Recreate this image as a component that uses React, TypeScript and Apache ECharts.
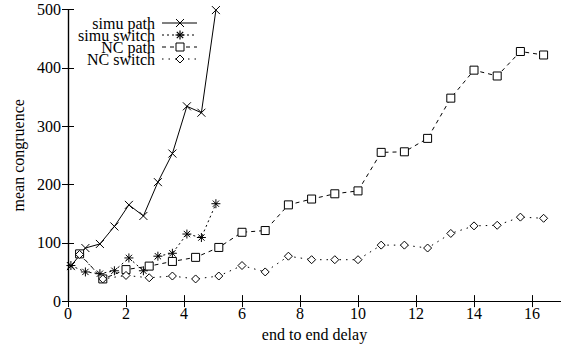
import React, { useEffect, useRef } from "react";
import * as echarts from "echarts";

const seriesNames = ["simu path", "simu switch", "NC path", "NC switch"];

const simuPathX = [0.1, 0.6, 1.1, 1.6, 2.1, 2.6, 3.1, 3.6, 4.1, 4.6, 5.1];
const simuPathY = [60, 91, 98, 128, 165, 146, 204, 253, 334, 323, 499];

const simuSwitchX = [0.1, 0.6, 1.1, 1.6, 2.1, 2.6, 3.1, 3.6, 4.1, 4.6, 5.1];
const simuSwitchY = [61, 50, 47, 52, 74, 52, 77, 82, 115, 109, 167];

const ncX = [0.4, 1.2, 2.0, 2.8, 3.6, 4.4, 5.2, 6.0, 6.8, 7.6, 8.4, 9.2, 10.0, 10.8, 11.6, 12.4, 13.2, 14.0, 14.8, 15.6, 16.4];
const ncPathY = [81, 38, 54, 60, 68, 75, 92, 118, 121, 165, 175, 184, 189, 255, 256, 279, 348, 396, 386, 428, 422];
const ncSwitchY = [80, 38, 44, 40, 43, 38, 43, 61, 50, 77, 71, 71, 71, 96, 96, 91, 116, 129, 130, 144, 142];

const xTicks = { min: 0, max: 17, interval: 2 };
const yTicks = { min: 0, max: 500, interval: 100 };

const FONT = "'Liberation Serif', 'Times New Roman', serif";

const zip = (xs: number[], ys: number[]) => xs.map((x, i) => [x, ys[i]]);

const dashes: (number[] | null)[] = [null, [2, 3], [4, 4], [1.5, 5]];

function legendGraphic() {
  const rowsY = [23, 35, 47, 59];
  const textRight = 155;
  const lx1 = 162;
  const lx2 = 197;
  const mx = 180;
  const els: any[] = [];
  seriesNames.forEach((n, i) => {
    const y = rowsY[i];
    els.push({
      type: "text",
      x: textRight,
      y,
      style: {
        text: n,
        align: "right",
        verticalAlign: "middle",
        fontFamily: FONT,
        fontSize: 16,
        fill: "#000",
      },
    });
    els.push({
      type: "line",
      shape: { x1: lx1, y1: y, x2: lx2, y2: y },
      style: { stroke: "#000", lineWidth: 1, lineDash: dashes[i] || undefined },
    });
    const s = 4;
    if (i === 0) {
      els.push({ type: "line", shape: { x1: mx - s, y1: y - s, x2: mx + s, y2: y + s }, style: { stroke: "#000", lineWidth: 1 } });
      els.push({ type: "line", shape: { x1: mx - s, y1: y + s, x2: mx + s, y2: y - s }, style: { stroke: "#000", lineWidth: 1 } });
    } else if (i === 1) {
      const a = 3.2;
      els.push({ type: "line", shape: { x1: mx, y1: y - 4.5, x2: mx, y2: y + 4.5 }, style: { stroke: "#000", lineWidth: 1.2 } });
      els.push({ type: "line", shape: { x1: mx - 4.5, y1: y, x2: mx + 4.5, y2: y }, style: { stroke: "#000", lineWidth: 1.2 } });
      els.push({ type: "line", shape: { x1: mx - a, y1: y - a, x2: mx + a, y2: y + a }, style: { stroke: "#000", lineWidth: 1.2 } });
      els.push({ type: "line", shape: { x1: mx - a, y1: y + a, x2: mx + a, y2: y - a }, style: { stroke: "#000", lineWidth: 1.2 } });
    } else if (i === 2) {
      els.push({ type: "rect", shape: { x: mx - 4, y: y - 4, width: 8, height: 8 }, style: { fill: "#fff", stroke: "#000", lineWidth: 1 } });
    } else {
      els.push({
        type: "polygon",
        shape: { points: [[mx, y - 4], [mx + 4, y], [mx, y + 4], [mx - 4, y]] },
        style: { fill: "#fff", stroke: "#000", lineWidth: 1 },
      });
    }
  });
  return els;
}

export default function App() {
  const ref = useRef<HTMLDivElement>(null);
  useEffect(() => {
    if (!ref.current) return;
    const chart = echarts.init(ref.current, null, { renderer: "svg" });
    const axisLine = { show: true, lineStyle: { color: "#000", width: 1.2 } };
    const tickIn = { show: true, inside: true, length: 6, lineStyle: { color: "#000", width: 1 } };
    const common = {
      type: "line",
      symbolSize: 8,
      lineStyle: { color: "#000", width: 1 },
      showSymbol: true,
    };
    chart.setOption({
      animation: false,
      backgroundColor: "#fff",
      textStyle: { fontFamily: FONT },
      grid: { left: 68, right: -1, top: 9.5, bottom: 42.5, containLabel: false },
      graphic: legendGraphic(),
      xAxis: [
        {
          type: "value",
          ...xTicks,
          position: "bottom",
          axisLine,
          axisTick: tickIn,
          splitLine: { show: false },
          axisLabel: {
            fontFamily: FONT,
            fontSize: 16,
            color: "#000",
            margin: 4,
            showMaxLabel: false,
          },
          name: "end to end delay",
          nameLocation: "middle",
          nameGap: 23,
          nameTextStyle: { fontFamily: FONT, fontSize: 16, color: "#000" },
        },
        {
          type: "value",
          ...xTicks,
          position: "top",
          axisLine,
          axisTick: tickIn,
          axisLabel: { show: false },
          splitLine: { show: false },
        },
      ],
      yAxis: [
        {
          type: "value",
          ...yTicks,
          position: "left",
          axisLine,
          axisTick: tickIn,
          splitLine: { show: false },
          axisLabel: { fontFamily: FONT, fontSize: 16, color: "#000", margin: 7 },
          name: "mean congruence",
          nameLocation: "middle",
          nameGap: 42,
          nameTextStyle: { fontFamily: FONT, fontSize: 16, color: "#000" },
        },
        {
          type: "value",
          ...yTicks,
          position: "right",
          axisLine,
          axisTick: tickIn,
          axisLabel: { show: false },
          splitLine: { show: false },
        },
      ],
      series: [
        {
          ...common,
          name: seriesNames[0],
          data: zip(simuPathX, simuPathY),
          symbol: "path://M0 0L10 10M10 0L0 10",
          symbolSize: 8,
          itemStyle: { color: "#000", borderColor: "#000", borderWidth: 1 },
          lineStyle: { color: "#000", width: 1, type: "solid" },
        },
        {
          ...common,
          name: seriesNames[1],
          data: zip(simuSwitchX, simuSwitchY),
          symbol: "path://M5 0L5 10M0 5L10 5M1.5 1.5L8.5 8.5M8.5 1.5L1.5 8.5",
          symbolSize: 9,
          itemStyle: { color: "none", borderColor: "#000", borderWidth: 1 },
          lineStyle: { color: "#000", width: 1, type: [2, 3] },
        },
        {
          ...common,
          name: seriesNames[2],
          data: zip(ncX, ncPathY),
          symbol: "rect",
          symbolSize: 8,
          itemStyle: { color: "#fff", borderColor: "#000", borderWidth: 1 },
          lineStyle: { color: "#000", width: 1, type: [4, 4] },
        },
        {
          ...common,
          name: seriesNames[3],
          data: zip(ncX, ncSwitchY),
          symbol: "diamond",
          symbolSize: 8,
          itemStyle: { color: "#fff", borderColor: "#000", borderWidth: 1 },
          lineStyle: { color: "#000", width: 1, type: [1.5, 5] },
        },
      ],
    });
    return () => chart.dispose();
  }, []);
  return (
    <div
      ref={ref}
      style={{ position: "fixed", left: 0, top: 0, width: 561, height: 347 }}
    />
  );
}
